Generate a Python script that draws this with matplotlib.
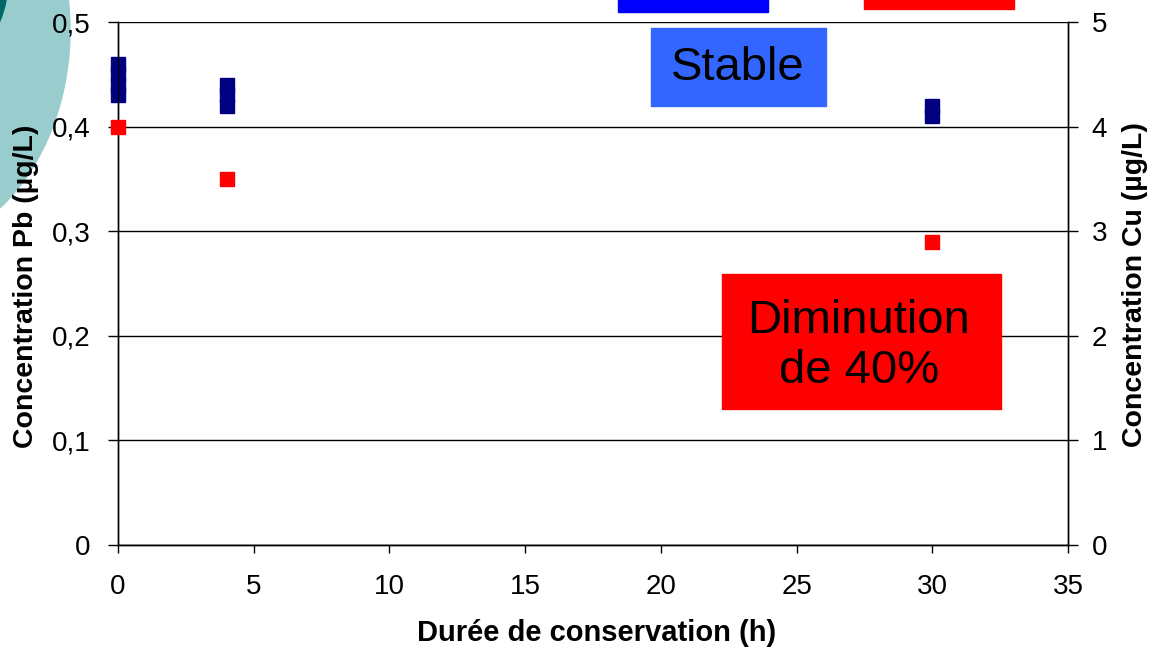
import matplotlib
matplotlib.use('Agg')
import matplotlib.pyplot as plt
from matplotlib.patches import Ellipse, Rectangle

# data
duree_pb = [0, 0, 0, 0, 4, 4, 4, 30, 30]
conc_pb = [0.43, 0.44, 0.45, 0.46, 0.42, 0.43, 0.44, 0.41, 0.42]
duree_cu = [0, 4, 30]
conc_cu = [4.0, 3.5, 2.9]

x_ticks = [0, 5, 10, 15, 20, 25, 30, 35]
pb_ticks = [0, 0.1, 0.2, 0.3, 0.4, 0.5]
pb_labels = ['0', '0,1', '0,2', '0,3', '0,4', '0,5']
cu_ticks = [0, 1, 2, 3, 4, 5]

W, H = 1149, 649
plt.rcParams['font.family'] = ['Liberation Sans', 'DejaVu Sans']

fig = plt.figure(figsize=(W / 100, H / 100), dpi=100)


def fx(x):
    return x / W


def fy(y):
    # y measured from top of the picture, in pixels
    return 1 - y / H


# decorative shapes of the slide
fig.patches.append(Ellipse((fx(-100), fy(30)), 340 / W, 440 / H,
                           transform=fig.transFigure, color='#99cccc',
                           zorder=-2))
fig.patches.append(Ellipse((fx(-100), fy(-20)), 2 * 108 / W, 2 * 108 / H,
                           transform=fig.transFigure, color='#006666',
                           zorder=-1))
fig.patches.append(Rectangle((fx(618), fy(12)), 150 / W, 20 / H,
                             transform=fig.transFigure, color='#0000ff'))
fig.patches.append(Rectangle((fx(864), fy(9)), 150 / W, 20 / H,
                             transform=fig.transFigure, color='#ff0000'))

ax = fig.add_axes([fx(118), fy(545), (1068 - 118) / W, (545 - 22) / H])
ax.set_facecolor('none')
ax2 = ax.twinx()

ax.plot(duree_pb, conc_pb, ls='none', marker='s', ms=9.8,
        color='#000080', clip_on=False, zorder=5)
ax2.plot(duree_cu, conc_cu, ls='none', marker='s', ms=9.8,
         color='#ff0000', clip_on=False, zorder=5)

ax.set_xlim(0, 35)
ax.set_ylim(0, 0.5)
ax2.set_ylim(0, 5)
ax.set_xticks(x_ticks)
ax.set_yticks(pb_ticks)
ax.set_yticklabels(pb_labels)
ax2.set_yticks(cu_ticks)

ax.yaxis.grid(True, color='black', lw=1)
ax.set_axisbelow(True)
for a in (ax, ax2):
    a.spines['top'].set_visible(False)
    for s in a.spines.values():
        s.set_color('black')
        s.set_linewidth(1)
ax.tick_params(axis='x', direction='out', length=6, width=1,
               labelsize=20, pad=15)
ax.tick_params(axis='y', direction='out', length=7, width=1,
               labelsize=20, pad=13)
ax2.tick_params(axis='y', direction='out', length=7, width=1,
                labelsize=20, pad=10)

fig.text(fx(597), fy(633), 'Durée de conservation (h)', ha='center',
         va='center', fontsize=21, fontweight='bold')
fig.text(fx(26), fy(286), 'Concentration Pb (µg/L)', ha='center',
         va='center', rotation=90, fontsize=20.5, fontweight='bold')
fig.text(fx(1135), fy(285), 'Concentration Cu (µg/L)', ha='center',
         va='center', rotation=90, fontsize=20.5, fontweight='bold')

# annotation boxes
fig.patches.append(Rectangle((fx(651), fy(106)), 175 / W, 78 / H,
                             transform=fig.transFigure, color='#3366ff'))
fig.text(fx(738), fy(68), 'Stable', ha='center', va='center', fontsize=34)
fig.patches.append(Rectangle((fx(722), fy(409)), 279 / W, 135 / H,
                             transform=fig.transFigure, color='#ff0000'))
fig.text(fx(859), fy(346), 'Diminution\nde 40%', ha='center', va='center',
         multialignment='center', fontsize=34, linespacing=1.2)

fig.savefig('out.png', dpi=100)
